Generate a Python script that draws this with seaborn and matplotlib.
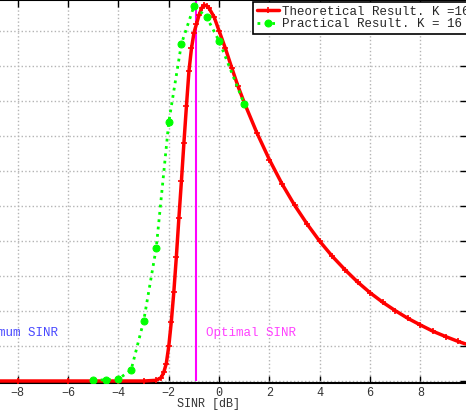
import matplotlib as mtl
mtl.use('Agg')
import matplotlib.pyplot as plt
import numpy as np
import seaborn as sns

# theoretical pdf of SINR
sinr_theo = [-10, -8, -6, -4, -3, -2.5, -2.3, -2.2, -2.1, -2.0, -1.9, -1.8, -1.7,
             -1.6, -1.5, -1.4, -1.3, -1.2, -1.1, -1.0, -0.9, -0.8, -0.7, -0.6,
             -0.5, -0.4, -0.2, 0.0, 0.25, 0.5, 0.75, 1.0, 1.5, 2.0, 2.5, 3.0,
             3.5, 4.0, 4.5, 5.0, 5.5, 6.0, 6.5, 7.0, 7.5, 8.0, 8.5, 9.0, 9.5, 10.0]
pdf_theo = [0, 0, 0, 0, 0, 0.0004, 0.002, 0.005, 0.010, 0.020, 0.034, 0.051, 0.071,
            0.093, 0.114, 0.136, 0.157, 0.177, 0.190, 0.199, 0.204, 0.209, 0.213, 0.2148,
            0.2144, 0.213, 0.208, 0.200, 0.190, 0.179, 0.1684, 0.159, 0.1418, 0.1264, 0.1126, 0.1004,
            0.0896, 0.0798, 0.0712, 0.0636, 0.0566, 0.0504, 0.045, 0.0402, 0.0358, 0.0320, 0.0284,
            0.0254, 0.0226, 0.0202]

# measured (practical) pdf
sinr_prac = [-5.0, -4.5, -4.0, -3.5, -3.0, -2.5, -2.0, -1.5, -1.0, -0.5, 0.0, 1.0]
pdf_prac = [0.0006, 0.0006, 0.0012, 0.0062, 0.0342, 0.076, 0.148, 0.1926, 0.2142, 0.208, 0.1942, 0.1582]

sinr_opt = -0.91
label_theo = 'Theoretical Result. K =16'
label_prac = 'Practical Result. K = 16'

sns.set_style("white")
plt.rcParams['font.family'] = ['Liberation Mono', 'DejaVu Sans Mono']

fig = plt.figure(figsize=(4.66, 4.13), dpi=100)
# axes is wider than the figure (the reference is a crop)
ax = fig.add_axes([-32.5 / 466, 30 / 413, 499.5 / 466, 383 / 413])

ax.vlines(sinr_opt, 0, 0.3, colors='#ff00ff', lw=1.5, zorder=2)

sns.lineplot(x=sinr_theo, y=pdf_theo, ax=ax, color='#ff0000', lw=2.5, marker='+',
             markersize=4, mew=1.2, mec='#ff0000', sort=False, estimator=None,
             label=label_theo, zorder=3)
sns.lineplot(x=sinr_prac, y=pdf_prac, ax=ax, color='#00ff00', lw=2, linestyle=':',
             marker='o', markersize=5, mec='#00ff00', sort=False, estimator=None,
             label=label_prac, zorder=4)

ax.text(-6.4, 0.0274, 'Minimum SINR', color='#4848ff', fontsize=9, ha='right', va='center')
ax.text(-0.51, 0.0274, 'Optimal SINR', color='#ff40ff', fontsize=9, ha='left', va='center')

ax.set_xlim(-10, 9.85)
ax.set_ylim(-0.00114, 0.2177)
ax.set_xticks(np.arange(-8, 10, 2))
ax.set_yticks(np.arange(0, 0.22, 0.02))
ax.set_yticklabels([])
ax.grid(True, color='#b4b4b4', linestyle=':', lw=1)
ax.tick_params(direction='in', length=5, width=1, top=True, right=True, left=True,
               bottom=True, labelsize=8.5, pad=3, colors='black', labelcolor='#333333')
for s in ax.spines.values():
    s.set_color('black')
    s.set_linewidth(1.5)

ax.set_xlabel('SINR [dB]', fontsize=8.5, color='#333333', labelpad=0)
ax.xaxis.set_label_coords(0.4815, -0.04)

leg = ax.legend(loc='upper left', bbox_to_anchor=(0.5716, 0.9948), borderaxespad=0,
                fontsize=9, frameon=True, fancybox=False, framealpha=1, edgecolor='black',
                borderpad=0.3, labelspacing=0.05, handlelength=1.8, handletextpad=0.2)
leg.get_frame().set_linewidth(1.2)

plt.savefig('out.png', dpi=100)
